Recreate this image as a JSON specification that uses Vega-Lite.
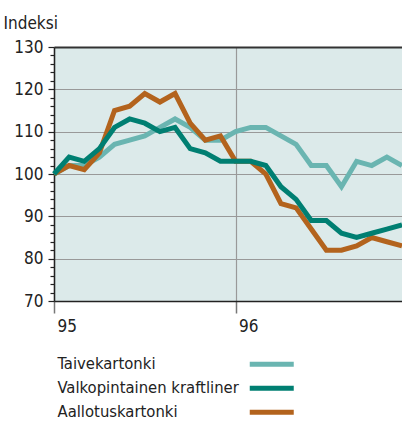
{
  "$schema": "https://vega.github.io/schema/vega-lite/v6.json",
  "width": 348,
  "height": 254,
  "autosize": "none",
  "padding": {"left": 54, "top": 47, "right": 0, "bottom": 121},
  "background": "white",
  "config": {
    "view": {"fill": "#dceaea", "stroke": null},
    "font": "Liberation Sans Narrow, DejaVu Sans Condensed, sans-serif"
  },
  "data": {
    "values": [
      {"kuukausi": 0, "laji": "Taivekartonki", "indeksi": 100},
      {"kuukausi": 1, "laji": "Taivekartonki", "indeksi": 102},
      {"kuukausi": 2, "laji": "Taivekartonki", "indeksi": 102},
      {"kuukausi": 3, "laji": "Taivekartonki", "indeksi": 104},
      {"kuukausi": 4, "laji": "Taivekartonki", "indeksi": 107},
      {"kuukausi": 5, "laji": "Taivekartonki", "indeksi": 108},
      {"kuukausi": 6, "laji": "Taivekartonki", "indeksi": 109},
      {"kuukausi": 7, "laji": "Taivekartonki", "indeksi": 111},
      {"kuukausi": 8, "laji": "Taivekartonki", "indeksi": 113},
      {"kuukausi": 9, "laji": "Taivekartonki", "indeksi": 111},
      {"kuukausi": 10, "laji": "Taivekartonki", "indeksi": 108},
      {"kuukausi": 11, "laji": "Taivekartonki", "indeksi": 108},
      {"kuukausi": 12, "laji": "Taivekartonki", "indeksi": 110},
      {"kuukausi": 13, "laji": "Taivekartonki", "indeksi": 111},
      {"kuukausi": 14, "laji": "Taivekartonki", "indeksi": 111},
      {"kuukausi": 15, "laji": "Taivekartonki", "indeksi": 109},
      {"kuukausi": 16, "laji": "Taivekartonki", "indeksi": 107},
      {"kuukausi": 17, "laji": "Taivekartonki", "indeksi": 102},
      {"kuukausi": 18, "laji": "Taivekartonki", "indeksi": 102},
      {"kuukausi": 19, "laji": "Taivekartonki", "indeksi": 97},
      {"kuukausi": 20, "laji": "Taivekartonki", "indeksi": 103},
      {"kuukausi": 21, "laji": "Taivekartonki", "indeksi": 102},
      {"kuukausi": 22, "laji": "Taivekartonki", "indeksi": 104},
      {"kuukausi": 23, "laji": "Taivekartonki", "indeksi": 102},
      {"kuukausi": 0, "laji": "Aallotuskartonki", "indeksi": 100},
      {"kuukausi": 1, "laji": "Aallotuskartonki", "indeksi": 102},
      {"kuukausi": 2, "laji": "Aallotuskartonki", "indeksi": 101},
      {"kuukausi": 3, "laji": "Aallotuskartonki", "indeksi": 105},
      {"kuukausi": 4, "laji": "Aallotuskartonki", "indeksi": 115},
      {"kuukausi": 5, "laji": "Aallotuskartonki", "indeksi": 116},
      {"kuukausi": 6, "laji": "Aallotuskartonki", "indeksi": 119},
      {"kuukausi": 7, "laji": "Aallotuskartonki", "indeksi": 117},
      {"kuukausi": 8, "laji": "Aallotuskartonki", "indeksi": 119},
      {"kuukausi": 9, "laji": "Aallotuskartonki", "indeksi": 112},
      {"kuukausi": 10, "laji": "Aallotuskartonki", "indeksi": 108},
      {"kuukausi": 11, "laji": "Aallotuskartonki", "indeksi": 109},
      {"kuukausi": 12, "laji": "Aallotuskartonki", "indeksi": 103},
      {"kuukausi": 13, "laji": "Aallotuskartonki", "indeksi": 103},
      {"kuukausi": 14, "laji": "Aallotuskartonki", "indeksi": 100},
      {"kuukausi": 15, "laji": "Aallotuskartonki", "indeksi": 93},
      {"kuukausi": 16, "laji": "Aallotuskartonki", "indeksi": 92},
      {"kuukausi": 17, "laji": "Aallotuskartonki", "indeksi": 87},
      {"kuukausi": 18, "laji": "Aallotuskartonki", "indeksi": 82},
      {"kuukausi": 19, "laji": "Aallotuskartonki", "indeksi": 82},
      {"kuukausi": 20, "laji": "Aallotuskartonki", "indeksi": 83},
      {"kuukausi": 21, "laji": "Aallotuskartonki", "indeksi": 85},
      {"kuukausi": 22, "laji": "Aallotuskartonki", "indeksi": 84},
      {"kuukausi": 23, "laji": "Aallotuskartonki", "indeksi": 83},
      {"kuukausi": 0, "laji": "Valkopintainen kraftliner", "indeksi": 100},
      {"kuukausi": 1, "laji": "Valkopintainen kraftliner", "indeksi": 104},
      {"kuukausi": 2, "laji": "Valkopintainen kraftliner", "indeksi": 103},
      {"kuukausi": 3, "laji": "Valkopintainen kraftliner", "indeksi": 106},
      {"kuukausi": 4, "laji": "Valkopintainen kraftliner", "indeksi": 111},
      {"kuukausi": 5, "laji": "Valkopintainen kraftliner", "indeksi": 113},
      {"kuukausi": 6, "laji": "Valkopintainen kraftliner", "indeksi": 112},
      {"kuukausi": 7, "laji": "Valkopintainen kraftliner", "indeksi": 110},
      {"kuukausi": 8, "laji": "Valkopintainen kraftliner", "indeksi": 111},
      {"kuukausi": 9, "laji": "Valkopintainen kraftliner", "indeksi": 106},
      {"kuukausi": 10, "laji": "Valkopintainen kraftliner", "indeksi": 105},
      {"kuukausi": 11, "laji": "Valkopintainen kraftliner", "indeksi": 103},
      {"kuukausi": 12, "laji": "Valkopintainen kraftliner", "indeksi": 103},
      {"kuukausi": 13, "laji": "Valkopintainen kraftliner", "indeksi": 103},
      {"kuukausi": 14, "laji": "Valkopintainen kraftliner", "indeksi": 102},
      {"kuukausi": 15, "laji": "Valkopintainen kraftliner", "indeksi": 97},
      {"kuukausi": 16, "laji": "Valkopintainen kraftliner", "indeksi": 94},
      {"kuukausi": 17, "laji": "Valkopintainen kraftliner", "indeksi": 89},
      {"kuukausi": 18, "laji": "Valkopintainen kraftliner", "indeksi": 89},
      {"kuukausi": 19, "laji": "Valkopintainen kraftliner", "indeksi": 86},
      {"kuukausi": 20, "laji": "Valkopintainen kraftliner", "indeksi": 85},
      {"kuukausi": 21, "laji": "Valkopintainen kraftliner", "indeksi": 86},
      {"kuukausi": 22, "laji": "Valkopintainen kraftliner", "indeksi": 87},
      {"kuukausi": 23, "laji": "Valkopintainen kraftliner", "indeksi": 88}
    ]
  },
  "mark": {"type": "line", "strokeWidth": 5, "strokeJoin": "miter", "strokeCap": "butt"},
  "encoding": {
    "x": {
      "field": "kuukausi",
      "type": "quantitative",
      "scale": {"domain": [0, 23], "nice": false, "zero": false},
      "axis": {
        "title": null,
        "values": [0, 12],
        "labelExpr": "datum.value == 0 ? '95' : '96'",
        "labelAlign": "left",
        "labelOffset": 3,
        "labelPadding": 5,
        "labelFontSize": 17,
        "labelColor": "#222",
        "tickSize": 12,
        "tickColor": "#777",
        "tickWidth": 1.5,
        "domainColor": "#222",
        "domainWidth": 1.5,
        "grid": true,
        "gridColor": "#999",
        "gridWidth": 1.2
      }
    },
    "y": {
      "field": "indeksi",
      "type": "quantitative",
      "scale": {"domain": [70, 130], "nice": false, "zero": false},
      "axis": {
        "title": "Indeksi",
        "titleAngle": 0,
        "titleAlign": "left",
        "titleBaseline": "alphabetic",
        "titleX": -51,
        "titleY": -19,
        "titleFontSize": 17,
        "titleFontWeight": "normal",
        "titleColor": "#222",
        "values": [70, 72, 74, 76, 78, 80, 82, 84, 86, 88, 90, 92, 94, 96, 98, 100, 102, 104, 106, 108, 110, 112, 114, 116, 118, 120, 122, 124, 126, 128, 130],
        "labelExpr": "datum.value % 10 == 0 ? datum.label : ''",
        "labelFontSize": 17,
        "labelColor": "#222",
        "labelPadding": 5,
        "tickSize": {"condition": {"test": "datum.value % 10 == 0", "value": 6}, "value": 4},
        "tickColor": "#222",
        "tickWidth": 1.2,
        "domainColor": "#222",
        "domainWidth": 1.5,
        "grid": true,
        "gridColor": {"condition": {"test": "datum.value == 130", "value": "#333"}, "value": "#999"},
        "gridOpacity": {"condition": {"test": "datum.value % 10 == 0", "value": 1}, "value": 0},
        "gridWidth": {"condition": {"test": "datum.value == 130", "value": 2}, "value": 1.2}
      }
    },
    "color": {
      "field": "laji",
      "type": "nominal",
      "scale": {
        "domain": ["Taivekartonki", "Valkopintainen kraftliner", "Aallotuskartonki"],
        "range": ["#6ab5b1", "#007f72", "#b3631d"]
      },
      "legend": {
        "title": null,
        "orient": "none",
        "legendX": 3,
        "legendY": 309,
        "symbolType": "M-4,0H4",
        "symbolSize": 121,
        "symbolStrokeWidth": 5,
        "symbolOffset": 206.5,
        "labelOffset": -222.5,
        "rowPadding": 3,
        "labelFontSize": 16.5,
        "labelColor": "#222",
        "labelLimit": 300
      }
    }
  }
}
